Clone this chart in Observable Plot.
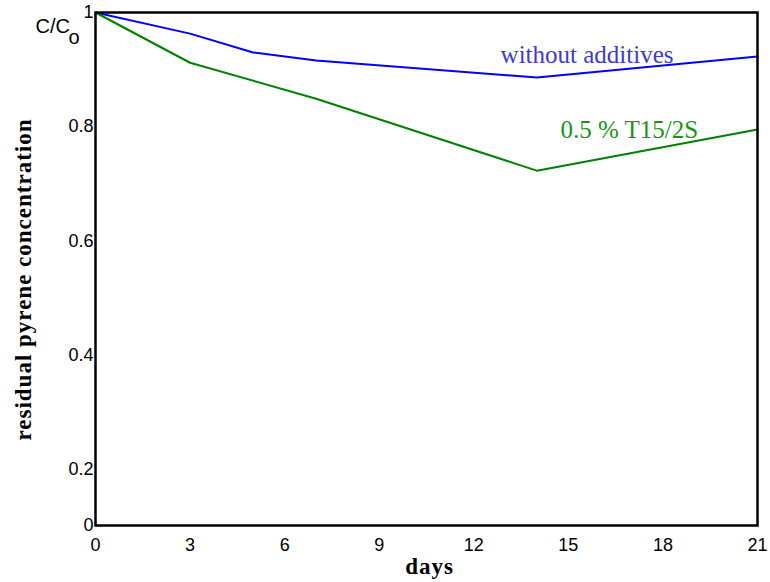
<!DOCTYPE html>
<html>
<head>
<meta charset="utf-8">
<script src="https://cdn.jsdelivr.net/npm/d3@7"></script>
<script src="https://cdn.jsdelivr.net/npm/@observablehq/plot@0.6"></script>
<style>
  html, body { margin: 0; padding: 0; background: #fff; }
  g[font-weight="bold"] text { letter-spacing: 1px; }
</style>
</head>
<body>
<div id="chart"></div>
<script>
// Data
const blueDays = [0, 3, 5, 7, 14, 21];
const blueValues = [1, 0.963, 0.930, 0.916, 0.886, 0.923];
const greenDays = [0, 3, 7, 14, 21];
const greenValues = [1, 0.912, 0.849, 0.723, 0.795];
const seriesNames = ["without additives", "0.5 % T15/2S"];
const xTicks = [0, 3, 6, 9, 12, 15, 18, 21];
const yTicks = [0.1016, 0.2, 0.4, 0.6, 0.8, 1];
const yAxisBottom = 0.1016;
const labelPos = [
  {x: 12.85, y: 0.9124},
  {x: 14.75, y: 0.781}
];

const blue = blueDays.map((d, i) => ({day: d, c: blueValues[i]}));
const green = greenDays.map((d, i) => ({day: d, c: greenValues[i]}));

const chart = Plot.plot({
  width: 770,
  height: 582,
  marginLeft: 95,
  marginRight: 13,
  marginTop: 12,
  marginBottom: 57,
  style: {fontFamily: "'Liberation Sans', Arial, sans-serif", fontSize: "18px", background: "#fff", color: "#000"},
  x: {domain: [0, 21]},
  y: {domain: [yAxisBottom, 1]},
  marks: [
    Plot.axisX({ticks: xTicks, tickSize: 0, tickPadding: 13, fontSize: 18, label: null}),
    Plot.axisY({ticks: yTicks, tickSize: 0, tickPadding: 2, fontSize: 18, label: null,
      tickFormat: d => d < 0.15 ? "0" : String(d)}),
    Plot.line(blue, {x: "day", y: "c", stroke: "#0000ff", strokeWidth: 2}),
    Plot.line(green, {x: "day", y: "c", stroke: "#008000", strokeWidth: 2}),
    Plot.frame({stroke: "#000", strokeWidth: 2.5}),
    Plot.text([seriesNames[0]], {x: () => labelPos[0].x, y: () => labelPos[0].y, text: d => d,
      textAnchor: "start", lineAnchor: "bottom", fill: "#3c3cd2",
      fontFamily: "'Liberation Serif', 'Times New Roman', serif", fontSize: 25}),
    Plot.text([seriesNames[1]], {x: () => labelPos[1].x, y: () => labelPos[1].y, text: d => d,
      textAnchor: "start", lineAnchor: "bottom", fill: "#159615",
      fontFamily: "'Liberation Serif', 'Times New Roman', serif", fontSize: 25}),
    Plot.text(["C/C"], {frameAnchor: "top-left", text: d => d, textAnchor: "start", lineAnchor: "bottom",
      dx: -60, dy: 20, fontSize: 20, fill: "#000"}),
    Plot.text(["o"], {frameAnchor: "top-left", text: d => d, textAnchor: "start", lineAnchor: "bottom",
      dx: -27, dy: 31, fontSize: 20, fill: "#000"}),
    Plot.text(["residual pyrene concentration"], {frameAnchor: "left", text: d => d, rotate: -90,
      textAnchor: "middle", lineAnchor: "bottom", dx: -65, dy: 10.5,
      fontFamily: "'Liberation Serif', 'Times New Roman', serif", fontWeight: "bold", fontSize: 23, fill: "#000"}),
    Plot.text(["days"], {frameAnchor: "bottom", text: d => d, textAnchor: "middle", lineAnchor: "bottom",
      dx: 3, dy: 48,
      fontFamily: "'Liberation Serif', 'Times New Roman', serif", fontWeight: "bold", fontSize: 23, fill: "#000"})
  ]
});
document.getElementById("chart").appendChild(chart);
</script>
</body>
</html>
